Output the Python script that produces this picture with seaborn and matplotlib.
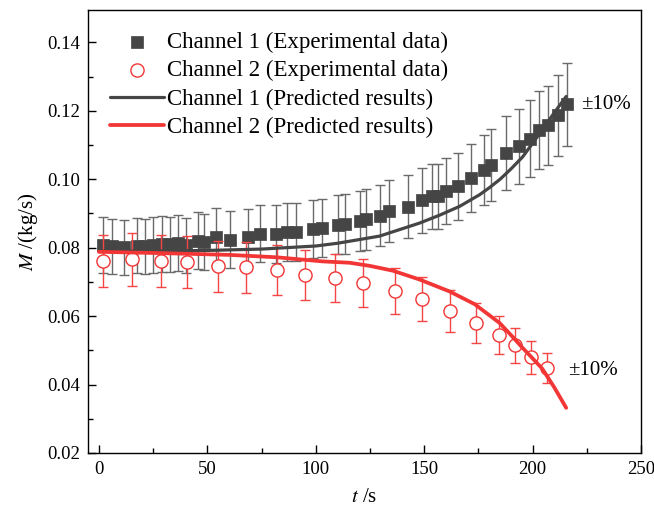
import matplotlib
matplotlib.use("Agg")
import matplotlib.pyplot as plt
import seaborn as sns
import numpy as np
import pandas as pd
from matplotlib.ticker import MultipleLocator

# ---- data ----
t_ch1_exp = [1.7, 6.1, 11.7, 17.4, 21.2, 25.0, 28.9, 32.7, 36.5, 40.4, 45.8, 48.5,
             54.2, 60.4, 68.8, 74.3, 81.9, 86.6, 90.8, 98.8, 102.8, 110.1, 113.6,
             120.3, 123.0, 129.8, 133.8, 142.5, 149.2, 153.8, 156.4, 159.9, 165.6,
             171.8, 177.4, 181.0, 187.9, 193.7, 198.6, 202.9, 207.2, 211.7, 216.0]
m_ch1_exp = [0.0808, 0.0804, 0.0801, 0.0806, 0.0804, 0.0808, 0.0811, 0.0810, 0.0814,
             0.0807, 0.0821, 0.0817, 0.0832, 0.0824, 0.0831, 0.0841, 0.0840, 0.0847,
             0.0845, 0.0855, 0.0858, 0.0867, 0.0869, 0.0879, 0.0883, 0.0894, 0.0906,
             0.0920, 0.0938, 0.0950, 0.0950, 0.0965, 0.0979, 0.1004, 0.1026, 0.1042,
             0.1076, 0.1096, 0.1119, 0.1144, 0.1158, 0.1187, 0.1219]

t_ch2_exp = [1.8, 15.2, 28.6, 40.5, 54.8, 67.7, 82.0, 95.0, 108.8, 122.0, 136.4,
             148.8, 161.8, 173.7, 184.3, 191.7, 199.5, 206.5]
m_ch2_exp = [0.0761, 0.0766, 0.0761, 0.0758, 0.0746, 0.0743, 0.0734, 0.0720, 0.0711,
             0.0696, 0.0673, 0.0650, 0.0615, 0.0580, 0.0545, 0.0515, 0.0480, 0.0448]

t_ch1_pred = [0, 25, 50, 75, 100, 110, 120.3, 129.5, 138.7, 147.9, 157.1, 166.4,
              175.6, 180.0, 185.0, 190.0, 195.5, 203.2, 209.5, 215.5]
m_ch1_pred = [0.0790, 0.0790, 0.0792, 0.0796, 0.0805, 0.0813, 0.0824, 0.0834, 0.0853,
              0.0872, 0.0895, 0.0921, 0.0955, 0.0975, 0.1000, 0.1030, 0.1066, 0.1133,
              0.1190, 0.1242]

t_ch2_pred = [0, 30, 60.4, 82.0, 103.2, 115.7, 124.9, 135.5, 147.9, 161.8, 173.3,
              184.8, 190.0, 195.0, 199.5, 204.4, 210.0, 215.5]
m_ch2_pred = [0.0788, 0.0784, 0.0779, 0.0772, 0.0760, 0.0756, 0.0747, 0.0733, 0.0707,
              0.0672, 0.0635, 0.0580, 0.0545, 0.0510, 0.0480, 0.0447, 0.0392, 0.0332]

err_frac = 0.10
labels = ["Channel 1 (Experimental data)", "Channel 2 (Experimental data)",
          "Channel 1 (Predicted results)", "Channel 2 (Predicted results)"]
annot_text = "\u00b110%"

# ---- style ----
sns.set_theme(style="ticks")
plt.rcParams["font.family"] = ["Liberation Serif", "DejaVu Serif"]
plt.rcParams["mathtext.fontset"] = "stix"
plt.rcParams["axes.linewidth"] = 1.0
plt.rcParams["text.color"] = "black"
plt.rcParams["axes.labelcolor"] = "black"
plt.rcParams["xtick.color"] = "black"
plt.rcParams["ytick.color"] = "black"

GRAY = "#454545"
GRAY_ERR = "#6a6a6a"
RED = "#f23535"
RED_ERR = "#f54545"

fig = plt.figure(figsize=(6.54, 5.17), dpi=100)
ax = fig.add_axes([0.1346, 0.1238, 0.8455, 0.857])

df1 = pd.DataFrame({"t": t_ch1_exp, "M": m_ch1_exp})
df2 = pd.DataFrame({"t": t_ch2_exp, "M": m_ch2_exp})
dp1 = pd.DataFrame({"t": t_ch1_pred, "M": m_ch1_pred})
dp2 = pd.DataFrame({"t": t_ch2_pred, "M": m_ch2_pred})

# error bars
ax.errorbar(df1["t"], df1["M"], yerr=df1["M"] * err_frac, fmt="none",
            ecolor=GRAY_ERR, elinewidth=1.0, capsize=3.3, capthick=1.0, zorder=1)
sns.scatterplot(data=df1, x="t", y="M", ax=ax, marker="s", s=80, color=GRAY,
                edgecolor=GRAY, linewidth=0.5, zorder=2, label=labels[0])
ax.errorbar(df2["t"], df2["M"], yerr=df2["M"] * err_frac, fmt="none",
            ecolor=RED_ERR, elinewidth=1.0, capsize=3.6, capthick=1.0, zorder=3)
sns.scatterplot(data=df2, x="t", y="M", ax=ax, marker="o", s=90,
                facecolor="white", edgecolor=RED, linewidth=1.0, zorder=4,
                label=labels[1])
sns.lineplot(data=dp1, x="t", y="M", ax=ax, color=GRAY, linewidth=2.3, zorder=5,
             label=labels[2], sort=False)
sns.lineplot(data=dp2, x="t", y="M", ax=ax, color=RED, linewidth=2.7, zorder=6,
             label=labels[3], sort=False)

ax.text(222.5, 0.1219, annot_text, fontsize=15, va="center", ha="left")
ax.text(216.5, 0.0440, annot_text, fontsize=15, va="center", ha="left")

ax.set_xlim(-5, 250)
ax.set_ylim(0.02, 0.1495)
ax.xaxis.set_major_locator(MultipleLocator(50))
ax.xaxis.set_minor_locator(MultipleLocator(25))
ax.yaxis.set_major_locator(MultipleLocator(0.02))
ax.yaxis.set_minor_locator(MultipleLocator(0.01))
ax.yaxis.set_major_formatter(matplotlib.ticker.FormatStrFormatter("%.2f"))
ax.tick_params(which="major", direction="in", length=6, width=1.0,
               labelsize=13.5, colors="black", pad=6, top=False, right=False)
ax.tick_params(which="minor", direction="in", length=3.5, width=1.0,
               top=False, right=False)
for s in ax.spines.values():
    s.set_visible(True)
    s.set_color("black")
    s.set_linewidth(1.0)

ax.set_xlabel(r"$t$ /s", fontsize=15, labelpad=7)
ax.set_ylabel(r"$M$ /(kg/s)", fontsize=15, labelpad=5)

leg = ax.legend(loc="upper left", frameon=False, fontsize=16.5, handlelength=2.35,
                handletextpad=0.15, labelspacing=0.32, borderaxespad=0.65,
                borderpad=0.3)

fig.savefig("out.png", dpi=100)
